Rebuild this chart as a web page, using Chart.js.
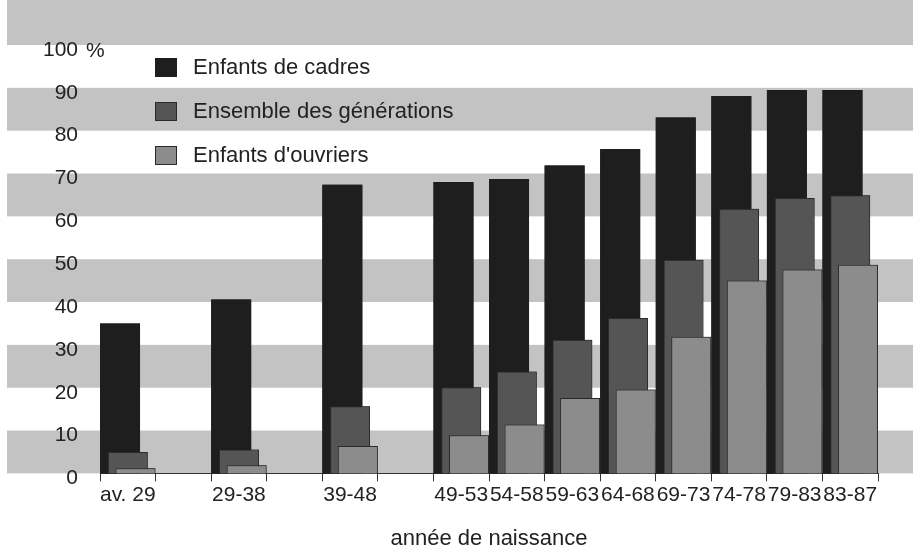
<!DOCTYPE html>
<html>
<head>
<meta charset="utf-8">
<script src="https://cdn.jsdelivr.net/npm/chart.js@4"></script>
<style>
  html, body { margin: 0; padding: 0; background: #fff; }
  #wrap { width: 913px; height: 552px; }
</style>
</head>
<body>
<div id="wrap"><canvas id="accesChart"></canvas></div>
<script>
const periodes = ['av. 29', '29-38', '39-48', '49-53', '54-58', '59-63', '64-68', '69-73', '74-78', '79-83', '83-87'];
// cohortes de dix ans : deux fois plus larges sur l'axe
const periodesLongues = ['av. 29', '29-38', '39-48'];
const enfantsCadres = [35, 40.6, 67.4, 68, 68.7, 71.9, 75.7, 83.1, 88.1, 89.5, 89.5];
const ensembleGenerations = [5, 5.6, 15.7, 20.1, 23.8, 31.2, 36.3, 49.9, 61.8, 64.3, 64.9];
const enfantsOuvriers = [1.2, 1.9, 6.4, 8.9, 11.4, 17.6, 19.6, 31.9, 45, 47.6, 48.7];
const yTicks = [0, 10, 20, 30, 40, 50, 60, 70, 80, 90, 100];

const police = '"Liberation Sans", Arial, sans-serif';

function etaler(valeurs, vide) {
  const out = [];
  periodes.forEach((p, i) => {
    out.push(valeurs[i]);
    if (periodesLongues.includes(p)) out.push(vide);
  });
  return out;
}

const bandes = {
  id: 'bandes',
  beforeDraw(chart) {
    const { ctx, scales: { y } } = chart;
    ctx.save();
    ctx.fillStyle = '#c3c3c3';
    for (let v = 0; v <= 100; v += 20) {
      const haut = v === 100 ? 0 : y.getPixelForValue(v + 10);
      const bas = y.getPixelForValue(v);
      ctx.fillRect(7, haut, chart.width - 7, bas - haut);
    }
    ctx.restore();
  }
};

// les séries suivantes doivent recouvrir les précédentes
const ordreDessin = {
  id: 'ordreDessin',
  afterDatasetsDraw(chart) {
    chart.getSortedVisibleDatasetMetas().forEach(meta => meta.controller.draw());
  }
};

const legende = {
  id: 'legende',
  afterDraw(chart) {
    const { ctx, scales: { y } } = chart;
    ctx.save();
    ctx.fillStyle = '#222';
    ctx.textBaseline = 'middle';
    ctx.font = '21px ' + police;
    ctx.fillText('%', 86, y.getPixelForValue(100) + 6);
    ctx.font = '22px ' + police;
    chart.data.datasets.forEach((ds, i) => {
      const cy = 67.5 + i * 44;
      ctx.fillStyle = ds.backgroundColor;
      ctx.fillRect(155, cy - 9.5, 22, 19);
      if (ds.borderWidth) {
        ctx.strokeStyle = ds.borderColor;
        ctx.lineWidth = 1;
        ctx.strokeRect(155.5, cy - 9, 21, 18);
      }
      ctx.fillStyle = '#222';
      ctx.fillText(ds.label, 193, cy);
    });
    ctx.restore();
  }
};

const ctx = document.getElementById('accesChart').getContext('2d');
const accesChart = new Chart(ctx, {
  type: 'bar',
  data: {
    labels: etaler(periodes, ''),
    datasets: [{
      label: 'Enfants de cadres',
      data: etaler(enfantsCadres, null),
      backgroundColor: '#1e1e1e',
      borderWidth: 0
    }, {
      label: 'Ensemble des générations',
      data: etaler(ensembleGenerations, null),
      backgroundColor: '#555555',
      borderColor: '#2a2a2a',
      borderWidth: 1
    }, {
      label: "Enfants d'ouvriers",
      data: etaler(enfantsOuvriers, null),
      backgroundColor: '#8c8c8c',
      borderColor: '#2a2a2a',
      borderWidth: 1
    }]
  },
  options: {
    responsive: true,
    maintainAspectRatio: false,
    animation: false,
    categoryPercentage: 0.418,
    barPercentage: 5.16,
    layout: {
      padding: { left: 0, top: 45, right: 35, bottom: 0 }
    },
    plugins: {
      legend: { display: false },
      tooltip: { enabled: false }
    },
    scales: {
      x: {
        offset: true,
        grid: {
          offset: true,
          drawOnChartArea: false,
          tickLength: 8,
          color: '#333'
        },
        border: { display: true, color: '#333', width: 1 },
        ticks: {
          autoSkip: false,
          maxRotation: 0,
          padding: 1,
          color: '#222',
          font: { family: police, size: 21 }
        },
        title: {
          display: true,
          text: 'année de naissance',
          color: '#222',
          font: { family: police, size: 22 },
          padding: { top: 17, bottom: 0 }
        }
      },
      y: {
        min: 0,
        max: 100,
        afterBuildTicks: s => { s.ticks = yTicks.map(v => ({ value: v })); },
        afterFit: s => { s.width = 100; },
        grid: { display: false, drawTicks: false },
        border: { display: false },
        ticks: {
          padding: 22,
          labelOffset: 5,
          color: '#222',
          font: { family: police, size: 21 }
        }
      }
    }
  },
  plugins: [bandes, ordreDessin, legende]
});
</script>
</body>
</html>
